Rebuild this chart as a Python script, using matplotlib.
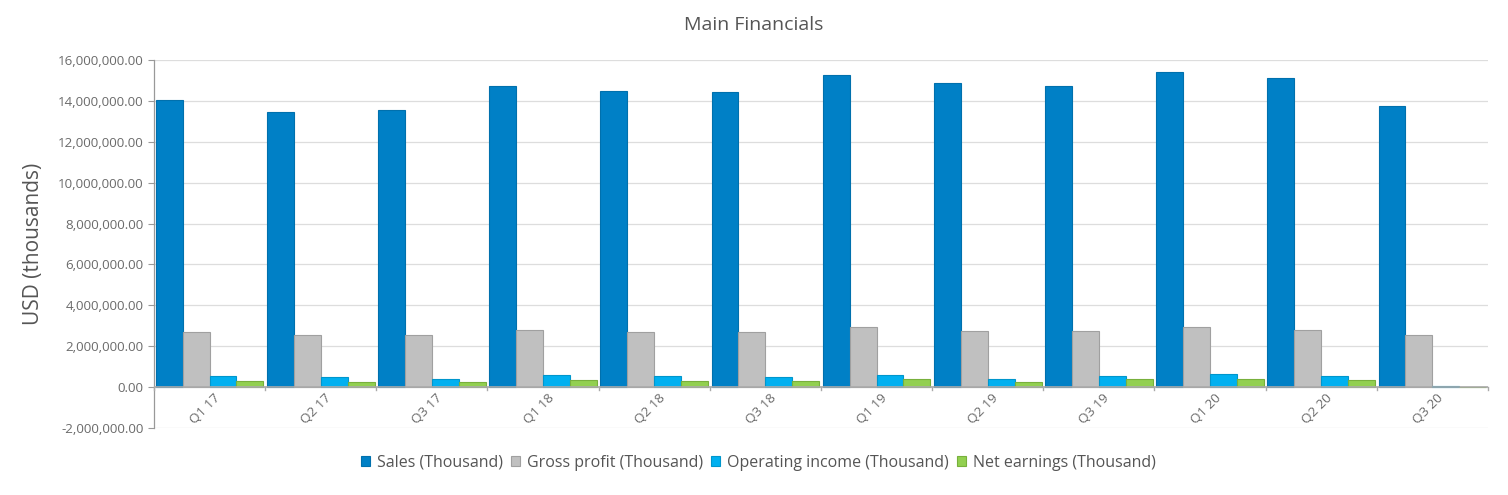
import numpy as np
import matplotlib.pyplot as plt
from matplotlib.ticker import FuncFormatter

quarters = ["Q1 17", "Q2 17", "Q3 17", "Q1 18", "Q2 18", "Q3 18",
            "Q1 19", "Q2 19", "Q3 19", "Q1 20", "Q2 20", "Q3 20"]

# values in USD thousands
sales = [14.04e6, 13.46e6, 13.55e6, 14.73e6, 14.48e6, 14.43e6,
         15.28e6, 14.86e6, 14.74e6, 15.41e6, 15.10e6, 13.75e6]
gross_profit = [2.68e6, 2.54e6, 2.54e6, 2.79e6, 2.68e6, 2.68e6,
                2.92e6, 2.72e6, 2.72e6, 2.92e6, 2.79e6, 2.54e6]
operating_income = [0.54e6, 0.47e6, 0.41e6, 0.59e6, 0.54e6, 0.47e6,
                    0.59e6, 0.41e6, 0.54e6, 0.65e6, 0.54e6, 0.05e6]
net_earnings = [0.29e6, 0.23e6, 0.23e6, 0.36e6, 0.29e6, 0.29e6,
                0.41e6, 0.23e6, 0.41e6, 0.41e6, 0.36e6, 0.01e6]

series = [
    ("Sales (Thousand)", sales, "#0080c6", "#0070ad"),
    ("Gross profit (Thousand)", gross_profit, "#c0c0c0", "#a0a0a0"),
    ("Operating income (Thousand)", operating_income, "#00b0f0", "#0096cc"),
    ("Net earnings (Thousand)", net_earnings, "#92d050", "#78b03c"),
]

plt.rcParams['font.family'] = ['Open Sans', 'DejaVu Sans']

fig = plt.figure(figsize=(15.08, 4.95), dpi=100)
ax = fig.add_axes([0.1021, 0.1354, 0.8846, 0.7434])

x = np.arange(len(quarters))
width = 0.242
for k, (name, vals, color, edge) in enumerate(series):
    ax.bar(x - 0.5 + 0.016 + width * (k + 0.5), vals, width, color=color,
           edgecolor=edge, linewidth=0.8, label=name, zorder=3)

ax.set_xlim(-0.5, len(quarters) - 0.5)
ax.set_ylim(-2e6, 16e6)
ax.set_yticks(np.arange(-2e6, 16e6 + 1, 2e6))
ax.yaxis.set_major_formatter(FuncFormatter(lambda v, p: f"{v:,.2f}"))
ax.tick_params(axis='y', labelsize=9.6, labelcolor='#6b6b6b', color='#999999',
               length=4, width=0.8)
ax.grid(axis='y', color='#dddddd', linewidth=0.9, zorder=0)

for s in ['top', 'right', 'bottom']:
    ax.spines[s].set_visible(False)
ax.spines['left'].set_color('#999999')
ax.spines['left'].set_linewidth(0.9)

# category axis at zero
ax.axhline(0, color='#aaaaaa', linewidth=1.2, zorder=4)
ax.set_xticks([])
for b in np.arange(-0.5, len(quarters), 1.0):
    ax.plot([b, b], [0, -0.12e6], color='#aaaaaa', linewidth=1.0,
            clip_on=False, zorder=4)
for i, q in enumerate(quarters):
    ax.text(i + 0.12, -0.2e6, q, rotation=45, ha='right', va='top',
            fontsize=9.6, color='#6b6b6b')

ax.set_ylabel("USD (thousands)", fontsize=15, color='#555555', labelpad=10)
fig.text(0.5, 0.95, "Main Financials", fontsize=14, color='#555555',
         ha='center', va='center')

fig.legend(loc='center', bbox_to_anchor=(0.503, 0.065), ncol=4,
           frameon=False, fontsize=11.5, handlelength=0.55, handleheight=0.55,
           handletextpad=0.45, columnspacing=0.5, labelcolor='#555555')

fig.savefig("out.png", dpi=100, facecolor='white')
